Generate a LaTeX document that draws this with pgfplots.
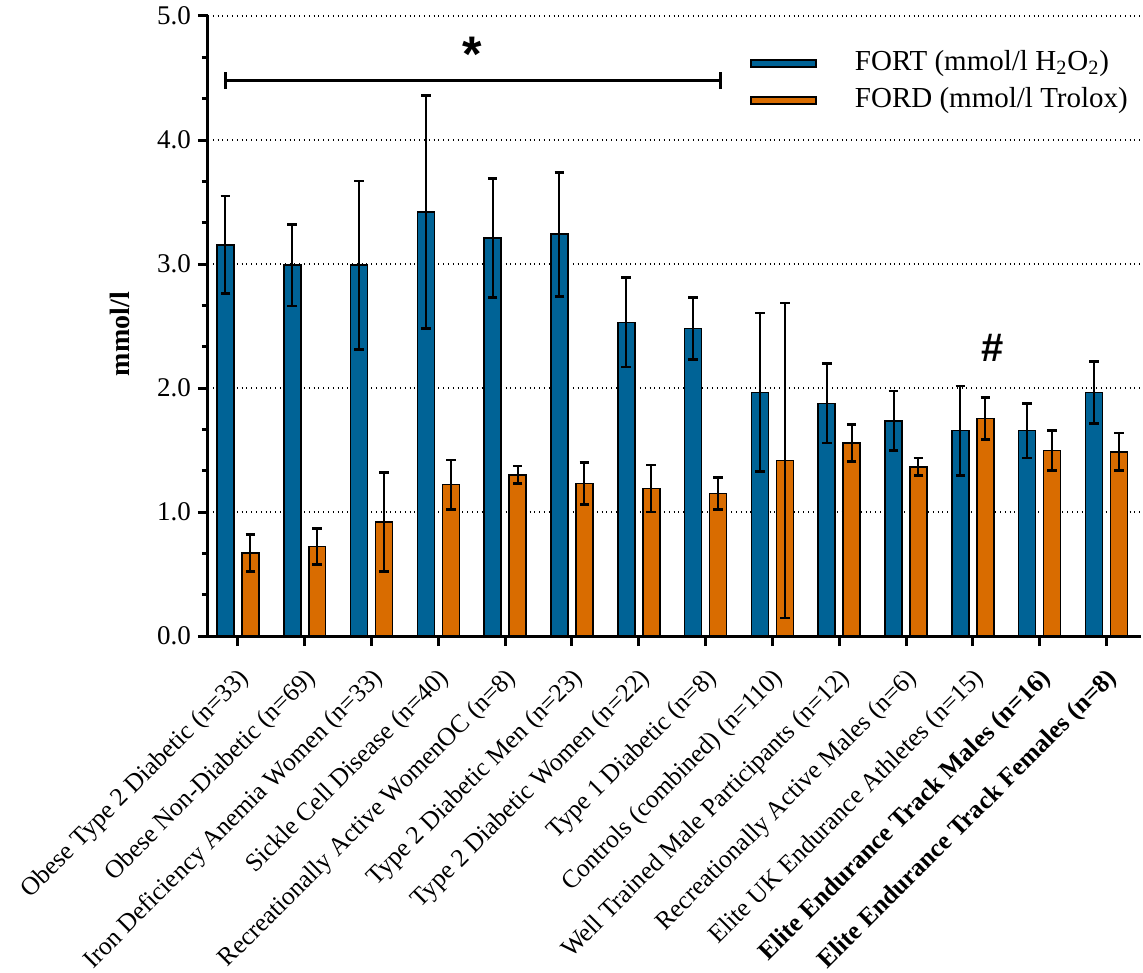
\documentclass[border=0pt]{standalone}
\usepackage{fontspec}
\setmainfont{Liberation Serif}
\newfontfamily\sansbold{Liberation Sans}
\usepackage{pgfplots}
\pgfplotsset{compat=1.18}
\definecolor{fortblue}{RGB}{0,99,150}
\definecolor{fordorange}{RGB}{217,108,0}
\pgfplotstableread{
x y e
0 3.155 0.395
1 2.99 0.33
2 2.99 0.68
3 3.42 0.94
4 3.21 0.48
5 3.24 0.50
6 2.53 0.36
7 2.48 0.25
8 1.965 0.64
9 1.876 0.32
10 1.735 0.24
11 1.656 0.36
12 1.656 0.22
13 1.965 0.25
}\fort
\pgfplotstableread{
x y e
0 0.67 0.15
1 0.72 0.145
2 0.92 0.40
3 1.22 0.20
4 1.30 0.07
5 1.23 0.17
6 1.19 0.19
7 1.15 0.13
8 1.414 1.27
9 1.556 0.15
10 1.365 0.07
11 1.755 0.17
12 1.497 0.16
13 1.486 0.15
}\ford
\begin{document}
\begin{tikzpicture}
\begin{axis}[
  width=466.5pt, height=310pt, scale only axis,
  xmin=-0.449, xmax=13.518, ymin=0, ymax=5,
  axis lines*=left,
  axis line style={line width=1.5pt},
  ybar, bar width=0.254,
  xtick={0,...,13},
  xticklabels={{Obese Type 2 Diabetic (n=33)}, {Obese Non-Diabetic (n=69)}, {Iron Deficiency Anemia Women (n=33)}, {Sickle Cell Disease (n=40)}, {Recreationally Active WomenOC (n=8)}, {Type 2 Diabetic Men (n=23)}, {Type 2 Diabetic Women (n=22)}, {Type 1 Diabetic (n=8)}, {Controls (combined) (n=110)}, {Well Trained Male Participants (n=12)}, {Recreationally Active Males (n=6)}, {Elite UK Endurance Athletes (n=15)}, {\textbf{Elite Endurance Track Males (n=16)}}, {\textbf{Elite Endurance Track Females (n=8)}}},
  xticklabel style={xshift=-0.5pt, yshift=-10pt, rotate=45, anchor=north east, inner sep=0pt, font=\fontsize{12.8}{15}\selectfont},
  ytick={0,1,2,3,4,5},
  minor y tick num=2,
  tick align=outside,
  major tick length=5pt, minor tick length=3pt,
  tick style={line width=1.5pt, black},
  yticklabel style={font=\fontsize{13.5}{16}\selectfont, /pgf/number format/.cd, fixed, fixed zerofill, precision=1, assume math mode=true},
  ymajorgrids, major grid style={dotted, line width=0.6pt, black},
  ylabel={\textbf{mmol/l}},
  ylabel style={at={(rel axis cs:-0.094,0.487)}, anchor=center, font=\fontsize{14}{16}\selectfont},
  legend style={at={(0.581,0.950)}, anchor=north west, draw=none, fill=none, inner sep=0pt, row sep=2.5pt,
    font=\fontsize{14.5}{17}\selectfont,
    nodes={inner sep=1pt, text height=10.5pt, text depth=3.5pt, anchor=west},
    /tikz/every odd column/.append style={column sep=18pt}},
  legend cell align=left,
  clip=false,
]
\addplot[fill=fortblue, draw=black, line width=0.75pt, bar shift=-0.187,
  legend image code/.code={\draw[fill=fortblue, draw=black, line width=0.75pt] (0pt,-1.75pt) rectangle (32.5pt,1.75pt);},
  error bars/.cd, y dir=both, y explicit,
  error bar style={line width=1pt, black},
  error mark options={rotate=90, line width=1.3pt, mark size=2.4pt, black}]
  table[x=x, y=y, y error=e] {\fort};
\addlegendentry{FORT (mmol/l H\textsubscript{2}O\textsubscript{2})}
\addplot[fill=fordorange, draw=black, line width=0.75pt, bar shift=0.187,
  legend image code/.code={\draw[fill=fordorange, draw=black, line width=0.75pt] (0pt,-1.75pt) rectangle (32.5pt,1.75pt);},
  error bars/.cd, y dir=both, y explicit,
  error bar style={line width=1pt, black},
  error mark options={rotate=90, line width=1.3pt, mark size=2.4pt, black}]
  table[x=x, y=y, y error=e] {\ford};
\addlegendentry{FORD (mmol/l Trolox)}
\draw[line width=1.5pt] (axis cs:-0.18,4.48) -- (axis cs:7.22,4.48);
\draw[line width=1.5pt] (axis cs:-0.18,4.41) -- (axis cs:-0.18,4.55);
\draw[line width=1.5pt] (axis cs:7.22,4.41) -- (axis cs:7.22,4.55);
\node at (axis cs:3.5,4.69) {\sansbold\bfseries\fontsize{25}{25}\selectfont *};
\node at (axis cs:11.29,2.32) {\sansbold\bfseries\fontsize{20}{20}\selectfont \#};
\coordinate (bbsw) at (rel axis cs:-0.2229,-0.5419);
\coordinate (bbne) at (rel axis cs:1.00214,1.0258);
\end{axis}
\pgfresetboundingbox
\path[use as bounding box] (bbsw) rectangle (bbne);
\end{tikzpicture}
\end{document}
